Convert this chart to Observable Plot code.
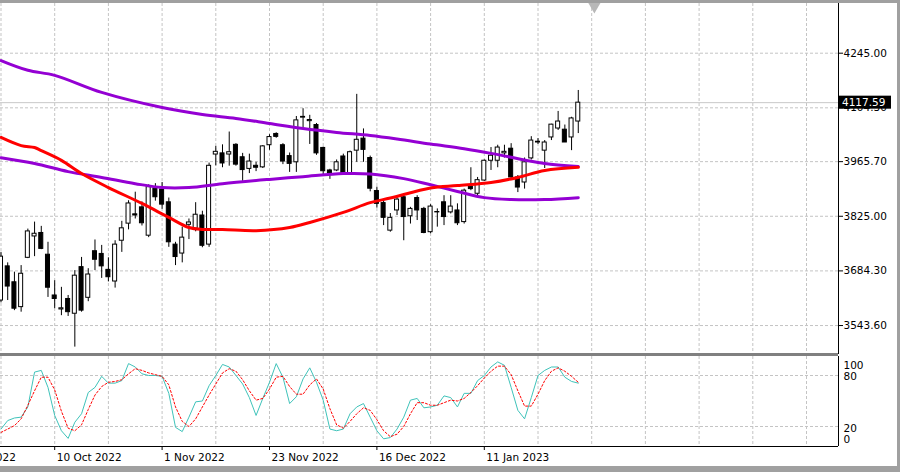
<!DOCTYPE html>
<html><head><meta charset="utf-8">
<script src="https://cdn.jsdelivr.net/npm/d3@7"></script>
<script src="https://cdn.jsdelivr.net/npm/@observablehq/plot@0.6"></script>
<style>
html,body{margin:0;padding:0;background:#fff;}
#wrap{position:relative;width:900px;height:472px;overflow:hidden;background:#fff;font-family:"DejaVu Sans",sans-serif;}
#wrap svg{position:absolute;left:0;}
.chrome{position:absolute;background:#a0a0a0;}
</style></head><body><div id="wrap"></div>
<script>
// ---- Daily candles, 28 Sep 2022 .. 1 Feb 2023 (bar index 0..86) ----
const open  = [3608,3696,3655,3591,3718,3773,3782,3726,3621,3585, 3612,3574,3694,3615,3735,3728,3687,3657,3762,3806,
               3830,3848,3775,3896,3894,3861,3752,3729,3803,3793, 3827,3752,3984,3987,3984,4009,3977,3947,3955,3951,
               4008,4037,4008,3980,3964,4079,4070,4060,4001,3943, 3943,3979,3934,3994,4025,3975,3890,3859,3788,3840,
               3874,3825,3872,3844,3784,3836,3861,3835,3840,3810, 3901,3883,3917,3968,3968,3987,3999,3925,3912,3974,
               4015,3994,4028,4051,4048,4028,4069];
const high  = [3732,3705,3681,3698,3792,3810,3799,3758,3659,3642, 3621,3685,3719,3690,3764,3750,3718,3762,3812,3865,
               3887,3862,3906,3909,3912,3872,3758,3797,3818,3860, 3838,3962,4005,4009,4042,4012,3987,3985,3964,4007,
               4035,4040,4012,3988,4082,4102,4085,4064,4003,3946, 3970,3985,3993,4139,4050,3980,3900,3865,3832,3874,
               3883,3848,3878,3848,3855,3844,3878,3878,3857,3895, 3950,3925,3970,4002,4008,4008,4012,3930,3975,4030,
               4025,4020,4062,4095,4060,4080,4149];
const low   = [3602,3608,3582,3578,3716,3721,3739,3616,3587,3569, 3567,3488,3578,3605,3685,3665,3656,3640,3732,3790,
               3818,3800,3770,3864,3843,3745,3698,3705,3765,3785, 3744,3745,3955,3950,3954,3954,3915,3935,3940,3948,
               3995,4026,3958,3938,3938,4052,4010,3982,3930,3920, 3940,3930,3930,3964,3964,3888,3846,3801,3784,3827,
               3762,3805,3814,3780,3780,3797,3801,3831,3801,3805, 3891,3876,3915,3943,3950,3975,3917,3886,3895,3970,
               4010,3948,4020,4046,4015,3994,4038];
const close = [3721,3644,3587,3677,3786,3780,3741,3641,3612,3588, 3578,3672,3582,3675,3713,3696,3668,3752,3794,3858,
               3827,3807,3900,3874,3855,3758,3720,3770,3809,3829, 3749,3955,3991,3961,3990,3958,3944,3966,3950,4005,
               4029,4029.5,3966,3960,4072,4081,4073,3987,3941,3936, 3964,3936,3990,4022,3996,3896,3857,3821,3821,3868,
               3823,3844,3840,3782,3850,3835,3823,3850,3807,3891, 3895,3918,3968,3981,4002,3991,3925,3899,3964,4020,
               4017,4015,4061,4069,4015,4077,4117.59];
// ---- Moving averages read at knots (bar index, price) ----
const maUpperBars   = [0,4,8,15,24,30,35,40,45,50,55,59,64,69,73,78,81,86];
const maUpperValues = [4226,4201,4188,4144,4105,4087,4077,4064,4051,4041,4033,4024,4011,3999,3987,3970,3961,3953];
const maRedBars     = [0,3,5,6,9,12,16,21,25,28,30,33,38,43,46,51,55,58,64,68,73,77,81,86];
const maRedValues   = [4028,4007,4002,3994,3969,3935,3899,3858,3822,3796,3791,3791,3788,3796,3809,3835,3860,3872,3898,3904,3912,3925,3943,3951];
const maLowerBars   = [0,5,10,15,20,24,28,33,40,45,51,55,60,64,68,72,76,81,86];
const maLowerValues = [3976,3961,3940,3925,3909,3899,3899,3909,3920,3927,3935,3934,3922,3906,3889,3873,3868,3868,3873];
// ---- Stochastic oscillator (%K main, %D signal) per bar ----
const stochK = [17,27,30,31,43,84,86,66,33,15, 6,25,35,60,66,79,71,71,74,94, 90,82,80,80,79,59,19,14,31,49,
                50,68,80,93,90,80,70,54,33,53, 72,94,78,47,55,76,89,72,51,17, 15,17,35,43,47,31,15,5.5,7,17,
                31,51,53,42,43,45,56,54,43,59, 59,74,80,90,96,92,66,39,29,54, 80,86,90,90,78,73,71];
const stochD = [13,17,21,29,45,62,78,78,63,38, 18,15,22,40,57,67,72,73,75,82, 88,86,83,81,79,69,43,26,20,29,
                43,57,70,83,88,85,75,62,51,53, 64,78,79,67,58,58,69,76,64,41, 22,18,26,35,42,39,28,15,8,11,
                20,35,48,48,45,45,48,51,50,53, 60,68,77,85,91,91,81,62,44,44, 58,74,85,89,85,79,72];
// ---- Axis ticks ----
const priceTicks  = [4245.00, 4104.30, 3965.70, 3825.00, 3684.30, 3543.60];
const stochTicks  = [100, 80, 20, 0];
const stochLevels = [80, 20];
const xTickBars   = [-8, 8, 24, 40, 56, 72];
const xTickLabels = ["16 Sep 2022", "10 Oct 2022", "1 Nov 2022", "23 Nov 2022", "16 Dec 2022", "11 Jan 2023"];

// ---- layout / style ----
const W = 900, plotRight = 838, barStep = 6.7125;
const xDomain = [-0.5 / barStep, (plotRight - 0.5) / barStep];
const yDomain = [3469, 4373];
const stochDomain = [-3.53, 102.35];
const stochLabelDy = [7, 1.5, 2, -4];
const gridC = "#c4c4c4", dash = "3,2";
const font = {fontFamily: "'DejaVu Sans', sans-serif", fontSize: "10.5px", background: "transparent", color: "#000"};

const bars = open.map((o, i) => ({i, open: o, high: high[i], low: low[i], close: close[i]}));
const lastPrice = close[close.length - 1];
const lastBar = bars.length - 1;
const gridBars = d3.range(0, 121, 8);
const maLine = (b, v, color) => Plot.line(b, {x: d => d, y: (d, k) => v[k], stroke: color, strokeWidth: 3, curve: "catmull-rom", clip: true});

const main = Plot.plot({
  width: W, height: 357, marginLeft: 0, marginRight: W - plotRight, marginTop: 3, marginBottom: 3,
  x: {domain: xDomain, axis: null},
  y: {domain: yDomain, axis: null},
  style: font,
  marks: [
    Plot.ruleY(priceTicks, {stroke: gridC, strokeDasharray: dash}),
    Plot.ruleX(gridBars, {stroke: gridC, strokeDasharray: dash}),
    Plot.ruleY([lastPrice], {stroke: "#c8c8c8"}),
    Plot.ruleX(bars, {x: "i", y1: "low", y2: "high", stroke: "#000", clip: true}),
    Plot.rect(bars, {x1: d => d.i - 0.3, x2: d => d.i + 0.3, y1: "open", y2: "close",
      fill: d => d.close >= d.open ? "#fff" : "#000", stroke: "#000", clip: true}),
    maLine(maUpperBars, maUpperValues, "#9400d3"),
    maLine(maLowerBars, maLowerValues, "#9400d3"),
    maLine(maRedBars, maRedValues, "#ff0000"),
    Plot.ruleX([xDomain[1]], {stroke: "#000"}),
    Plot.ruleY([yDomain[0]], {stroke: "#808080", strokeWidth: 3}),
    Plot.axisY(priceTicks, {anchor: "right", tickSize: 4, tickPadding: 1, tickFormat: d => d.toFixed(2)}),
    Plot.dot([lastBar + 2.4], {x: d => d, frameAnchor: "top", symbol: "triangle", r: 4.5, rotate: 180, fill: "#b8b8b8", dy: 3})
  ]
});
// current price label box on the right scale
{
  const yp = main.scale("y").apply(lastPrice);
  const g = d3.select(main).append("g").attr("text-anchor", "start");
  g.append("rect").attr("x", plotRight + 1).attr("y", yp - 6.5).attr("width", 52).attr("height", 13).attr("fill", "#000");
  g.append("text").attr("x", plotRight + 4).attr("y", yp).attr("dy", "0.35em").attr("fill", "#fff")
    .attr("text-anchor", "start")
    .attr("font-family", "'DejaVu Sans', sans-serif").attr("font-size", "10.5px").text(lastPrice.toFixed(2));
}

const stoch = Plot.plot({
  width: W, height: 116, marginLeft: 0, marginRight: W - plotRight, marginTop: 0, marginBottom: 26,
  x: {domain: xDomain, axis: null},
  y: {domain: stochDomain, axis: null},
  style: font,
  marks: [
    Plot.ruleY(stochLevels, {stroke: gridC, strokeDasharray: dash}),
    Plot.ruleX(gridBars, {stroke: gridC, strokeDasharray: dash}),
    Plot.line(stochK, {x: (d, i) => i, y: d => d, stroke: "#3fc3ba", strokeWidth: 1, clip: true}),
    Plot.line(stochD, {x: (d, i) => i, y: d => d, stroke: "#ff0000", strokeWidth: 1, strokeDasharray: "2,2", clip: true}),
    Plot.ruleX([xDomain[1]], {stroke: "#000"}),
    Plot.ruleY([stochDomain[0]], {stroke: "#000"}),
    ...stochTicks.map((t, k) => Plot.text([t], {y: d => d, text: d => String(d), frameAnchor: "right", dx: 5, dy: stochLabelDy[k], textAnchor: "start"})),
    Plot.ruleX(xTickBars, {x: d => d, y1: stochDomain[0], y2: stochDomain[0] - 4 / 0.85, stroke: "#000"}),
    Plot.text(xTickBars, {x: d => d, y: stochDomain[0], text: (d, k) => xTickLabels[k], textAnchor: "start", dx: 2, dy: 11})
  ]
});

const wrap = document.getElementById("wrap");
main.style.top = "0px";
stoch.style.top = "356px";
wrap.appendChild(main);
wrap.appendChild(stoch);
// window chrome borders
[["0px","0px","900px","3px"],["897px","0px","3px","472px"],["0px","466px","900px","6px"]].forEach(([l,t,w,h]) => {
  const d = document.createElement("div"); d.className = "chrome";
  Object.assign(d.style, {left: l, top: t, width: w, height: h});
  wrap.appendChild(d);
});
</script></body></html>
